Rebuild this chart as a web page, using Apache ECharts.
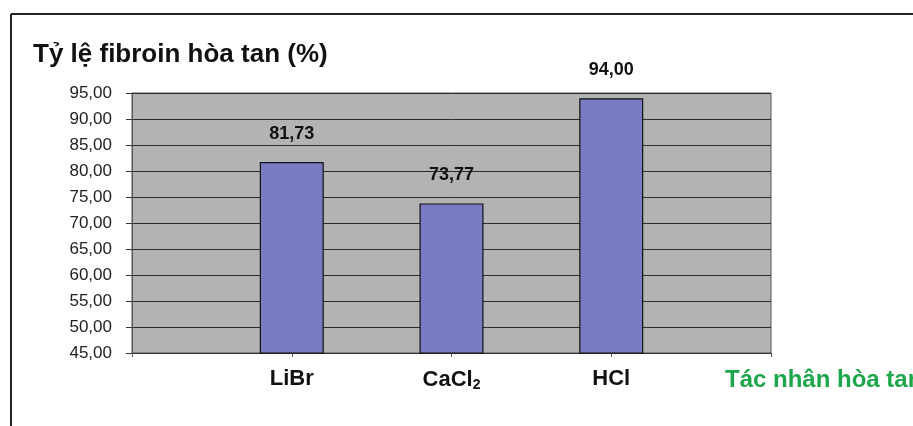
<!DOCTYPE html>
<html>
<head>
<meta charset="utf-8">
<script src="https://cdn.jsdelivr.net/npm/echarts@6/dist/echarts.min.js"></script>
<style>
html, body { margin: 0; padding: 0; background: #fff; }
#main { width: 913px; height: 426px; }
</style>
</head>
<body>
<div id="main"></div>
<script>
// dữ liệu biểu đồ
const categories = ['', 'LiBr', 'CaCl{sub|2}', 'HCl', ''];
const values = [null, 81.73, 73.77, 94.00, null];
const yTicks = [45, 50, 55, 60, 65, 70, 75, 80, 85, 90, 95];

const font = 'Liberation Sans, Arial, sans-serif';
const fmt = (v) => v.toFixed(2).replace('.', ',');

const option = {
    animation: false,
    backgroundColor: '#fff',
    title: {
        text: 'Tỷ lệ fibroin hòa tan (%)',
        left: 28, top: 37,
        textStyle: { fontFamily: font, fontSize: 26, fontWeight: 'bold', color: '#111' }
    },
    grid: {
        left: 132, right: 142, top: 93, bottom: 73,
        show: true, backgroundColor: '#b3b3b3', borderColor: '#555', borderWidth: 1,
        containLabel: false, outerBoundsMode: 'none'
    },
    xAxis: {
        type: 'category', data: categories, boundaryGap: false,
        name: 'Tác nhân hòa tan', nameLocation: 'end', nameGap: -46,
        nameTextStyle: {
            fontFamily: font, fontSize: 24, fontWeight: 'bold', color: '#1ea64b',
            align: 'left', verticalAlign: 'top', padding: [15, 0, 0, 0]
        },
        axisLine: { show: true, lineStyle: { color: '#333', width: 1 } },
        axisTick: { show: true, length: 4, interval: 0, lineStyle: { color: '#555' } },
        axisLabel: {
            interval: 0, hideOverlap: false,
            margin: 15, fontFamily: font, fontSize: 22, fontWeight: 'bold', color: '#111',
            rich: {
                sub: { fontFamily: font, fontSize: 14, fontWeight: 'bold', color: '#111', padding: [10, 0, 0, 0] }
            }
        }
    },
    yAxis: {
        type: 'value', min: yTicks[0], max: yTicks[yTicks.length - 1], interval: 5,
        axisLine: { show: true, lineStyle: { color: '#555' } },
        axisTick: { show: true, length: 6, lineStyle: { color: '#333' } },
        axisLabel: { margin: 20, fontFamily: font, fontSize: 17, color: '#222', formatter: fmt },
        splitLine: { show: true, lineStyle: { color: '#2b2b2b', width: 1 } }
    },
    series: [{
        type: 'bar', data: values, barWidth: 64,
        itemStyle: { color: '#7b7bc4', borderColor: '#111', borderWidth: 1.2 },
        label: {
            show: true, position: 'top', distance: 19,
            fontFamily: font, fontSize: 18, fontWeight: 'bold', color: '#111',
            formatter: (p) => fmt(p.value)
        }
    }],
    graphic: [
        { type: 'line', shape: { x1: 11, y1: 14, x2: 913, y2: 14 }, style: { stroke: '#222', lineWidth: 2 } },
        { type: 'line', shape: { x1: 11, y1: 14, x2: 11, y2: 426 }, style: { stroke: '#222', lineWidth: 2 } }
    ]
};

echarts.init(document.getElementById('main')).setOption(option);
</script>
</body>
</html>
